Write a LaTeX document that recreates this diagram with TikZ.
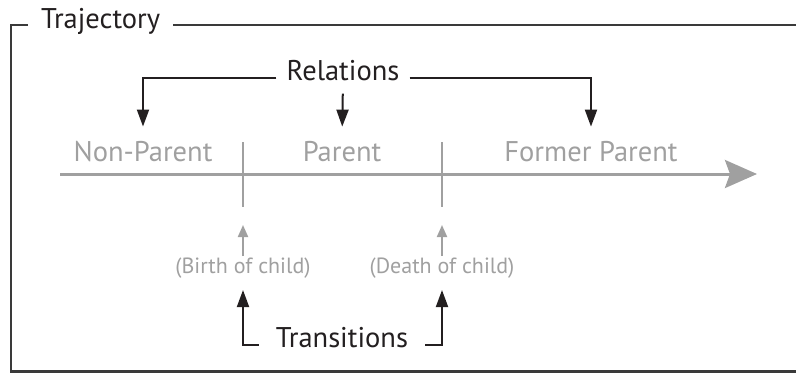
\documentclass[tikz,border=0pt]{standalone}
\usepackage{fontspec}
\setmainfont{PT Sans}
\usetikzlibrary{arrows.meta}
\definecolor{inkgray}{HTML}{A0A0A0}
\definecolor{inkdark}{HTML}{231F20}
\definecolor{framedark}{HTML}{3A3A3A}

\begin{document}
\begin{tikzpicture}[x=1pt, y=-1pt, font=\fontsize{28.5}{32}\selectfont]
\tikzstyle{lbl}=[inner sep=0pt, text=inkdark]
\tikzstyle{state}=[inner sep=0pt, text=inkgray]
\tikzstyle{event}=[inner sep=0pt, text=inkgray, font=\fontsize{22}{24}\selectfont]
\tikzstyle{blk}=[draw=inkdark, line width=2pt, -{Triangle[length=17pt, width=12pt]}]
\tikzstyle{gry}=[draw=inkgray, line width=2pt, -{Triangle[length=12pt, width=10pt]}]
\tikzstyle{tick}=[draw=inkgray, line width=2.5pt]
\useasboundingbox (0,0) rectangle (796,373);
% frame
\coordinate (top) at (0,25);
\node[lbl, inner xsep=13pt, anchor=base west] (traj) at (28,28) {Trajectory};
\draw[framedark, line width=2.5pt] (traj.west |- top) -- (11,25) -- (11,371.5) -- (800,371.5);
\draw[framedark, line width=2.5pt] (traj.east |- top) -- (800,25);
% time axis
\coordinate (tail) at (60,174);
\coordinate (head) at (757,174);
\draw[inkgray, line width=3pt, -{Stealth[length=32pt, width=28pt, inset=5pt]}] (tail) -- (head);
\foreach \x/\name in {243/birthtick, 442/deathtick}
  \draw[tick] (\x,142) -- (\x,207) coordinate (\name);
% states
\node[state, anchor=base] (nonpar) at (143,161) {Non-Parent};
\node[state, anchor=base] (par) at (342,161) {Parent};
\node[state, anchor=base] (former) at (591,161) {Former Parent};
\node[lbl, inner xsep=10pt, anchor=base] (rel) at (343,80) {Relations};
\draw[blk, shorten >=14pt] (rel.mid west) -| (nonpar.north);
\draw[blk, shorten >=14pt] (rel.mid east) -| (former.north);
\draw[blk, shorten <=13pt, shorten >=14pt] (rel.south) -- (par.north);
% events
\node[event, anchor=base] (birth) at (243,273) {(Birth of child)};
\node[event, anchor=base] (death) at (442,273) {(Death of child)};
\draw[gry, shorten <=1pt, shorten >=18pt] (birth.north) -- (birthtick);
\draw[gry, shorten <=1pt, shorten >=18pt] (death.north) -- (deathtick);
\node[lbl, inner xsep=17pt, anchor=base] (trans) at (342,347) {Transitions};
\draw[blk, shorten >=12pt] (trans.mid west) -| (birth.south);
\draw[blk, shorten >=12pt] (trans.mid east) -| (death.south);
\end{tikzpicture}
\end{document}
